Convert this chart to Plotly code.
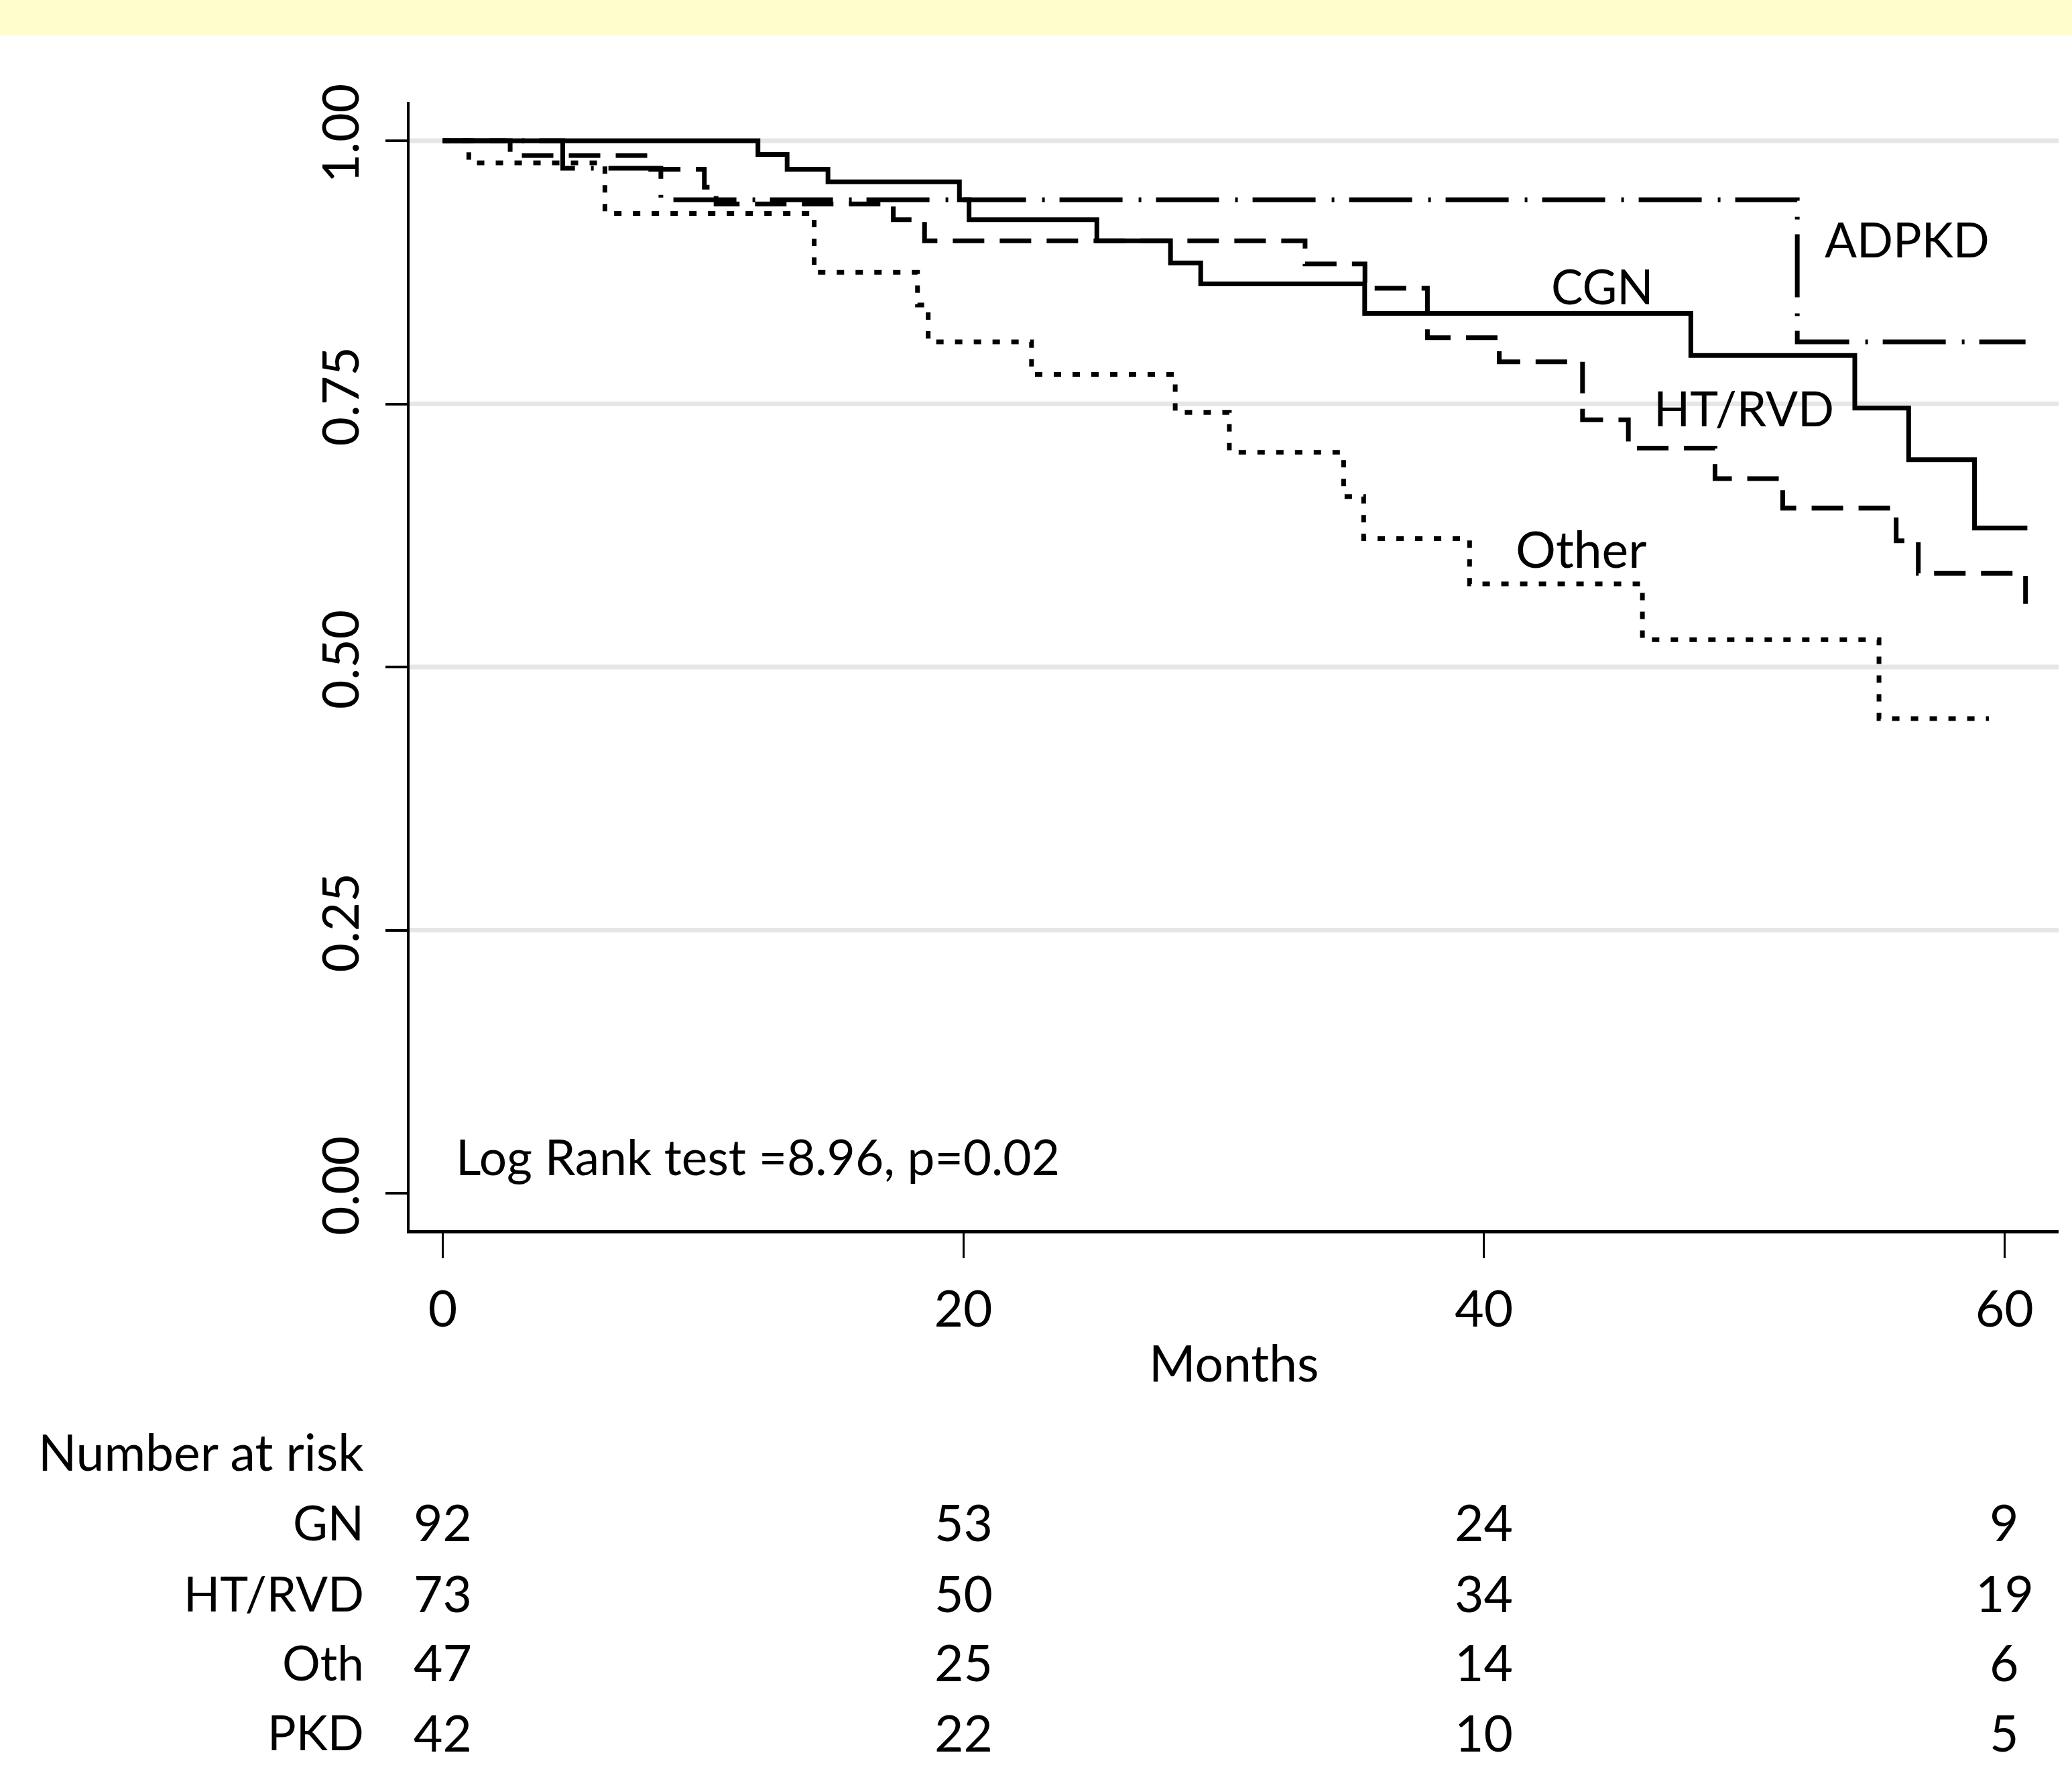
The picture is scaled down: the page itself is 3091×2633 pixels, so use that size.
import plotly.graph_objects as go

# ---------------- data ----------------
gn_t = [0, 12.11, 13.23, 14.80, 19.85, 20.22, 25.13, 27.96, 29.12, 35.42, 47.95, 54.25, 56.32, 58.85, 60.88]
gn_s = [1.0, 0.987, 0.973, 0.961, 0.944, 0.925, 0.905, 0.884, 0.864, 0.836, 0.796, 0.746, 0.697, 0.632, 0.632]

ht_t = [0, 2.59, 7.99, 10.05, 10.5, 17.31, 18.51, 33.13, 35.43, 37.83, 40.59, 43.79, 45.55, 48.88, 51.48, 55.84, 56.69, 60.81]
ht_s = [1.0, 0.986, 0.973, 0.956, 0.940, 0.925, 0.905, 0.883, 0.860, 0.813, 0.790, 0.735, 0.708, 0.679, 0.651, 0.620, 0.589, 0.560]

oth_t = [0, 1.0, 6.23, 14.27, 18.24, 18.65, 22.62, 28.14, 30.22, 34.61, 35.38, 39.45, 46.09, 55.18, 59.4]
oth_s = [1.0, 0.979, 0.931, 0.875, 0.844, 0.809, 0.778, 0.742, 0.704, 0.662, 0.622, 0.579, 0.526, 0.451, 0.451]

pkd_t = [0, 4.61, 8.38, 52.04, 60.81]
pkd_s = [1.0, 0.974, 0.944, 0.809, 0.809]

x_ticks = [0, 20, 40, 60]
y_ticks = [0.0, 0.25, 0.50, 0.75, 1.00]
y_ticklabels = ["0.00", "0.25", "0.50", "0.75", "1.00"]

risk_times = [0, 20, 40, 60]
risk_groups = ["GN", "HT/RVD", "Oth", "PKD"]
risk_gn = [92, 53, 24, 9]
risk_ht = [73, 50, 34, 19]
risk_oth = [47, 25, 14, 6]
risk_pkd = [42, 22, 10, 5]
risk_rows = [risk_gn, risk_ht, risk_oth, risk_pkd]

curve_labels = ["ADPKD", "CGN", "HT/RVD", "Other"]
stat_text = "Log Rank test =8.96, p=0.02"

# ---------------- figure ----------------
W, H = 3091, 2633
L, R, T, B = 611, 20, 152, 798
plot_h = H - T - B
FONT = "Lato, Carlito, 'Open Sans', sans-serif"
FS = 75      # general text
FS_CAPS = 71  # all-caps labels (Lato caps run wider)

def py(px):
    """pixel row -> paper y"""
    return (H - B - px) / plot_h

def px_x(px):
    return (px - L) / (W - L - R)

fig = go.Figure()
LW = 7
fig.add_trace(go.Scatter(x=gn_t, y=gn_s, mode="lines", line=dict(shape="hv", color="black", width=LW), showlegend=False))
fig.add_trace(go.Scatter(x=ht_t, y=ht_s, mode="lines", line=dict(shape="hv", color="black", width=LW, dash="47px,23px"), showlegend=False))
fig.add_trace(go.Scatter(x=oth_t, y=oth_s, mode="lines", line=dict(shape="hv", color="black", width=LW, dash="11px,17px"), showlegend=False))
fig.add_trace(go.Scatter(x=pkd_t, y=pkd_s, mode="lines", line=dict(shape="hv", color="black", width=LW, dash="94px,24px,4px,22px"), showlegend=False))

shapes = []
# yellow band at top
shapes.append(dict(type="rect", xref="paper", yref="paper", x0=-0.3, x1=1.1, y0=py(53), y1=py(-5),
                   fillcolor="#FFFDCC", line=dict(width=0), layer="below"))
# gridlines (not at 0)
for v in y_ticks[1:]:
    shapes.append(dict(type="line", xref="paper", yref="y", x0=0, x1=1, y0=v, y1=v,
                       line=dict(color="#E6E6E6", width=7), layer="below"))

annotations = []
# curve labels
label_pos = [(56.25, 0.907), (44.55, 0.862), (49.99, 0.746), (43.75, 0.613)]
label_fs = [FS_CAPS, FS_CAPS, FS_CAPS, FS]
for txt, (lx, ly), fs in zip(curve_labels, label_pos, label_fs):
    annotations.append(dict(x=lx, y=ly, xref="x", yref="y", text=txt, showarrow=False,
                            xanchor="center", yanchor="middle", font=dict(family=FONT, size=fs, color="black")))
annotations.append(dict(x=0.45, y=0.035, xref="x", yref="y", text=stat_text, showarrow=False,
                        xanchor="left", yanchor="middle", font=dict(family=FONT, size=73, color="black")))
# x axis title
annotations.append(dict(x=0.5, y=py(2032), xref="paper", yref="paper", text="Months", showarrow=False,
                        xanchor="center", yanchor="middle", font=dict(family=FONT, size=FS, color="black")))
# number at risk table
annotations.append(dict(x=px_x(55), y=py(2165), xref="paper", yref="paper", text="Number at risk", showarrow=False,
                        xanchor="left", yanchor="middle", font=dict(family=FONT, size=FS, color="black")))
row_px = [2270, 2376, 2479, 2583.5]
for grp, row, rp in zip(risk_groups, risk_rows, row_px):
    annotations.append(dict(x=px_x(545), y=py(rp), xref="paper", yref="paper", text=grp, showarrow=False,
                            xanchor="right", yanchor="middle", font=dict(family=FONT, size=FS_CAPS, color="black")))
    for t, n in zip(risk_times, row):
        annotations.append(dict(x=t, y=py(rp), xref="x", yref="paper", text=str(n), showarrow=False,
                                xanchor="center", yanchor="middle", font=dict(family=FONT, size=FS, color="black")))

fig.update_layout(
    width=W, height=H, autosize=False,
    margin=dict(l=L, r=R, t=T, b=B, pad=0),
    paper_bgcolor="white", plot_bgcolor="white",
    shapes=shapes, annotations=annotations,
    font=dict(family=FONT, size=FS, color="black"),
    xaxis=dict(range=[-1.275, 62.08], tickmode="array", tickvals=x_ticks, ticktext=[str(v) for v in x_ticks],
               showgrid=False, zeroline=False, showline=True, linecolor="black", linewidth=5,
               ticks="outside", ticklen=37, tickwidth=3, tickcolor="black",
               tickfont=dict(family=FONT, size=FS, color="black"), ticklabelstandoff=12),
    yaxis=dict(range=[-0.035, 1.037], tickmode="array", tickvals=y_ticks, ticktext=y_ticklabels,
               showgrid=False, zeroline=False, showline=True, linecolor="black", linewidth=4,
               ticks="outside", ticklen=32, tickwidth=4, tickcolor="black", tickangle=-90,
               tickfont=dict(family=FONT, size=FS, color="black"), ticklabelstandoff=10),
)

fig.write_html("out.html", config={"displayModeBar": False},
               post_script="document.body.style.margin='0';document.body.style.padding='0';")
